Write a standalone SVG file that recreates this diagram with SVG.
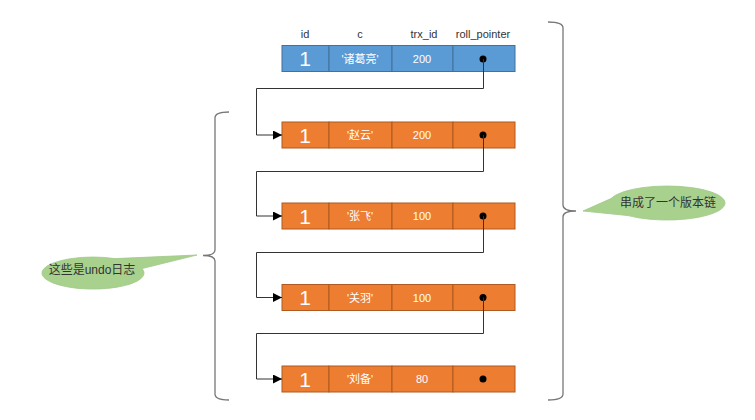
<svg xmlns="http://www.w3.org/2000/svg" width="755" height="420" viewBox="0 0 755 420">
<style>
.hdr{font-family:"Liberation Sans","Noto Sans CJK SC",sans-serif;font-size:11px;fill:#333;text-anchor:middle}
.cell-b{fill:#5B9BD5;stroke:#41719C;stroke-width:1}
.cell-o{fill:#ED7D31;stroke:#AE5A21;stroke-width:1}
.big{font-family:"Liberation Sans",sans-serif;font-size:21px;fill:#fff;text-anchor:middle}
.txt{font-family:"Liberation Sans","Noto Sans CJK SC",sans-serif;font-size:11px;fill:#fff;text-anchor:middle}
.dot{fill:#000}
.conn{fill:none;stroke:#333;stroke-width:1}
.brace{fill:none;stroke:#777;stroke-width:1.3}
.callout{fill:#A9D18E;stroke:#A0C888;stroke-width:0.8}
.ctext{font-family:"Liberation Sans","Noto Sans CJK SC",sans-serif;font-size:12px;fill:#333;text-anchor:middle}
</style>
<defs>
<marker id="arr" viewBox="0 0 10 10" refX="10" refY="5" markerWidth="9" markerHeight="9" markerUnits="userSpaceOnUse" orient="auto">
<path d="M0,0 L10,5 L0,10 Z" fill="#000"/>
</marker>
</defs>
<rect width="755" height="420" fill="#fff"/>

<g id="headers">
<text class="hdr" x="305" y="38">id</text>
<text class="hdr" x="360" y="38">c</text>
<text class="hdr" x="424" y="38">trx_id</text>
<text class="hdr" x="483" y="38">roll_pointer</text>
</g>

<g id="row0">
<rect class="cell-b" x="282" y="45.5" width="47" height="26"/>
<rect class="cell-b" x="329" y="45.5" width="63" height="26"/>
<rect class="cell-b" x="392" y="45.5" width="61" height="26"/>
<rect class="cell-b" x="453" y="45.5" width="62" height="26"/>
<text class="big" x="305" y="66">1</text>
<text class="txt" x="360" y="62.5">'诸葛亮'</text>
<text class="txt" x="422" y="62.5">200</text>
<circle class="dot" cx="483" cy="59" r="3.5"/>
</g>

<g id="row1">
<rect class="cell-o" x="282" y="122" width="47" height="26"/>
<rect class="cell-o" x="329" y="122" width="63" height="26"/>
<rect class="cell-o" x="392" y="122" width="61" height="26"/>
<rect class="cell-o" x="453" y="122" width="62" height="26"/>
<text class="big" x="305" y="142.5">1</text>
<text class="txt" x="360" y="139">'赵云'</text>
<text class="txt" x="422" y="139">200</text>
<circle class="dot" cx="483" cy="135" r="3.5"/>
</g>

<g id="row2">
<rect class="cell-o" x="282" y="203" width="47" height="26"/>
<rect class="cell-o" x="329" y="203" width="63" height="26"/>
<rect class="cell-o" x="392" y="203" width="61" height="26"/>
<rect class="cell-o" x="453" y="203" width="62" height="26"/>
<text class="big" x="305" y="223.5">1</text>
<text class="txt" x="360" y="220">'张飞'</text>
<text class="txt" x="422" y="220">100</text>
<circle class="dot" cx="483" cy="216" r="3.5"/>
</g>

<g id="row3">
<rect class="cell-o" x="282" y="284.5" width="47" height="26"/>
<rect class="cell-o" x="329" y="284.5" width="63" height="26"/>
<rect class="cell-o" x="392" y="284.5" width="61" height="26"/>
<rect class="cell-o" x="453" y="284.5" width="62" height="26"/>
<text class="big" x="305" y="305">1</text>
<text class="txt" x="360" y="301.5">'关羽'</text>
<text class="txt" x="422" y="301.5">100</text>
<circle class="dot" cx="483" cy="297.5" r="3.5"/>
</g>

<g id="row4">
<rect class="cell-o" x="282" y="366" width="47" height="26"/>
<rect class="cell-o" x="329" y="366" width="63" height="26"/>
<rect class="cell-o" x="392" y="366" width="61" height="26"/>
<rect class="cell-o" x="453" y="366" width="62" height="26"/>
<text class="big" x="305" y="386.5">1</text>
<text class="txt" x="360" y="383">'刘备'</text>
<text class="txt" x="422" y="383">80</text>
<circle class="dot" cx="483" cy="379" r="3.5"/>
</g>

<g id="connectors">
<path class="conn" d="M483.5,59 V88.5 H256.5 V135 H282" marker-end="url(#arr)"/>
<path class="conn" d="M483.5,135 V171.5 H256.5 V216 H282" marker-end="url(#arr)"/>
<path class="conn" d="M483.5,216 V252.5 H256.5 V297.5 H282" marker-end="url(#arr)"/>
<path class="conn" d="M483.5,297.5 V333.5 H256.5 V379 H282" marker-end="url(#arr)"/>
</g>

<g id="brace-left">
<path class="brace" d="M229,112 Q215,112 215,118 V250 Q215,255.5 203,255.5 Q215,255.5 215,261 V394 Q215,400 229,400"/>
</g>
<g id="brace-right">
<path class="brace" d="M548,22 Q563,22 563,28 V205 Q563,211 576,211 Q563,211 563,217 V394 Q563,400 548,400"/>
</g>

<g id="callout-left">
<path class="callout" d="M115,258.6 L197,255 L142,268.6 A51,16 0 1 1 115,258.6 Z"/>
<text class="ctext" x="92" y="274">这些是undo日志</text>
</g>
<g id="callout-right">
<path class="callout" d="M611,198.6 L583,211 L628,215.6 A58,17 0 1 0 611,198.6 Z"/>
<text class="ctext" x="668" y="207">串成了一个版本链</text>
</g>
</svg>
